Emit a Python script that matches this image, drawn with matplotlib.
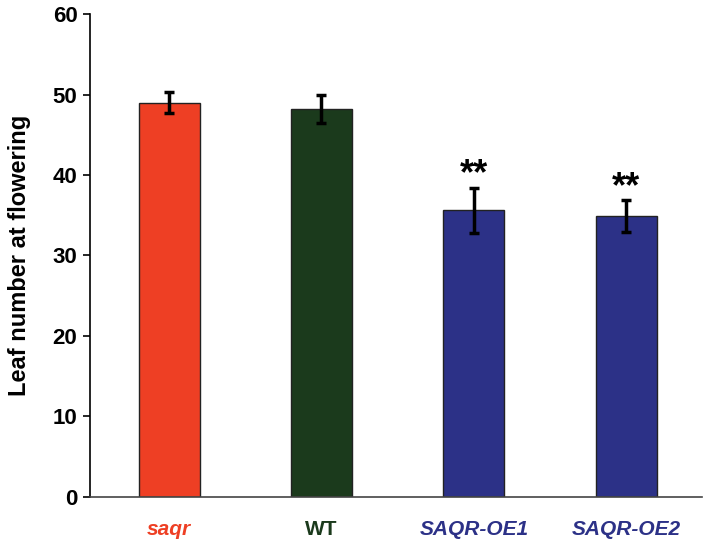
import matplotlib
matplotlib.use("Agg")
import matplotlib.pyplot as plt
from matplotlib import font_manager

GENOTYPES = ["saqr", "WT", "SAQR-OE1", "SAQR-OE2"]
LEAF_MEAN = [49.0, 48.2, 35.6, 34.9]
LEAF_ERR = [1.3, 1.75, 2.8, 2.0]
SIGNIF = ["", "", "**", "**"]
BAR_COLORS = ["#EE3F24", "#1B3A1C", "#2C3187", "#2C3187"]


def pick_font(names):
    have = {f.name for f in font_manager.fontManager.ttflist}
    for n in names:
        if n in have:
            return n
    return "DejaVu Sans"


def main():
    base = pick_font(["Liberation Sans", "Arial", "DejaVu Sans"])
    narrow = pick_font(["Liberation Sans Narrow", base])
    plt.rcParams["font.family"] = base

    fig = plt.figure(figsize=(7.08, 5.53), dpi=100)
    ax = fig.add_axes([0.127, 0.102, 0.865, 0.872])

    x = list(range(len(GENOTYPES)))
    ax.bar(x, LEAF_MEAN, width=0.4, color=BAR_COLORS, edgecolor="#222222",
           linewidth=1.0, zorder=2)
    ax.errorbar(x, LEAF_MEAN, yerr=LEAF_ERR, fmt="none", ecolor="black",
                elinewidth=2.5, capsize=3.5, capthick=2.5, zorder=3)

    # significance stars above the overexpression lines
    for xi, m, e, s in zip(x, LEAF_MEAN, LEAF_ERR, SIGNIF):
        if s:
            ax.text(xi, m + e + 1.6, s, ha="center", va="center",
                    fontsize=26, fontweight="bold")

    ax.set_xlim(-0.52, 3.5)
    ax.set_ylim(0, 60)
    ax.set_yticks(range(0, 61, 10))
    ax.set_xticks(x)
    ax.set_xticklabels(GENOTYPES)
    for lbl, c in zip(ax.get_xticklabels(), BAR_COLORS):
        lbl.set_color(c)
        lbl.set_fontweight("bold")
        lbl.set_fontsize(15)
        lbl.set_family(narrow)
        lbl.set_style("normal" if lbl.get_text() == "WT" else "italic")
    ax.tick_params(axis="x", length=0, pad=17)
    ax.tick_params(axis="y", length=5, width=1.2, labelsize=16, pad=4)
    for lbl in ax.get_yticklabels():
        lbl.set_fontweight("bold")

    ax.spines["top"].set_visible(False)
    ax.spines["right"].set_visible(False)
    ax.spines["left"].set_linewidth(1.2)
    ax.spines["bottom"].set_linewidth(1.2)
    ax.spines["bottom"].set_color("#444444")

    ax.set_ylabel("Leaf number at flowering", fontsize=17, fontweight="bold")
    ax.yaxis.set_label_coords(-0.096, 0.5)

    fig.savefig("out.png", dpi=100)


if __name__ == "__main__":
    main()
